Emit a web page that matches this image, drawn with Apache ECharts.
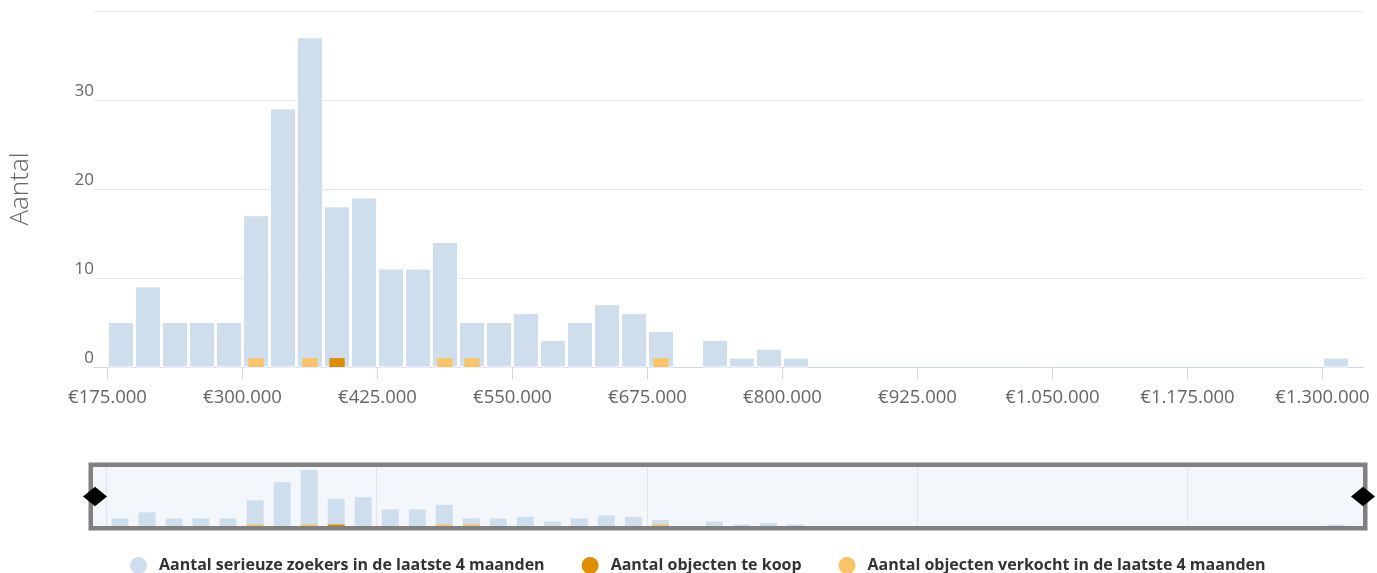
<!DOCTYPE html>
<html>
<head>
<meta charset="utf-8">
<script src="https://cdn.jsdelivr.net/npm/echarts@6/dist/echarts.min.js"></script>
<style>
html,body{margin:0;padding:0;background:#fff;}
#chart{width:1377px;height:573px;}
</style>
</head>
<body>
<div id="chart"></div>
<script>
// Bin starts (price classes of 25.000)
const binStarts = [175000, 200000, 225000, 250000, 275000, 300000, 325000, 350000, 375000, 400000,
  425000, 450000, 475000, 500000, 525000, 550000, 575000, 600000, 625000, 650000,
  675000, 700000, 725000, 750000, 775000, 800000, 825000, 850000, 875000, 900000,
  925000, 950000, 975000, 1000000, 1025000, 1050000, 1075000, 1100000, 1125000, 1150000,
  1175000, 1200000, 1225000, 1250000, 1275000, 1300000];
const binSize = 25000;
// Series values
const zoekers = [5, 9, 5, 5, 5, 17, 29, 37, 18, 19,
  11, 11, 14, 5, 5, 6, 3, 5, 7, 6,
  4, 0, 3, 1, 2, 1, 0, 0, 0, 0,
  0, 0, 0, 0, 0, 0, 0, 0, 0, 0,
  0, 0, 0, 0, 0, 1];
const teKoop = [0, 0, 0, 0, 0, 0, 0, 0, 1, 0,
  0, 0, 0, 0, 0, 0, 0, 0, 0, 0,
  0, 0, 0, 0, 0, 0, 0, 0, 0, 0,
  0, 0, 0, 0, 0, 0, 0, 0, 0, 0,
  0, 0, 0, 0, 0, 0];
const verkocht = [0, 0, 0, 0, 0, 1, 0, 1, 0, 0,
  0, 0, 1, 1, 0, 0, 0, 0, 0, 0,
  1, 0, 0, 0, 0, 0, 0, 0, 0, 0,
  0, 0, 0, 0, 0, 0, 0, 0, 0, 0,
  0, 0, 0, 0, 0, 0];
// Tick values
const xTicks = [175000, 300000, 425000, 550000, 675000, 800000, 925000, 1050000, 1175000, 1300000];
const navTicks = [175000, 425000, 675000, 925000, 1175000];
const yTickLabels = [0, 10, 20, 30];

const names = ['Aantal serieuze zoekers in de laatste 4 maanden', 'Aantal objecten te koop', 'Aantal objecten verkocht in de laatste 4 maanden'];
const colors = ['#cfdeed', '#df8e00', '#f8c465'];
const FONT = 'Open Sans';

function fmtEuro(v) {
  return '€' + String(v).replace(/\B(?=(\d{3})+(?!\d))/g, '.');
}
function toData(arr) { return arr.map((v, i) => [binStarts[i], v]); }

function barRenderer(frac, stroke) {
  return function (params, api) {
    const x = api.value(0), v = api.value(1);
    if (!v) return null;
    const p0 = api.coord([x, 0]);
    const p1 = api.coord([x + binSize, v]);
    const bw = p1[0] - p0[0];
    const w = bw * frac;
    const cx = (p0[0] + p1[0]) / 2;
    return {
      type: 'rect',
      shape: { x: cx - w / 2, y: p1[1], width: w, height: p0[1] - p1[1] },
      style: stroke ? { fill: api.visual('color'), stroke: '#ffffff', lineWidth: 1 } : { fill: api.visual('color') }
    };
  };
}

const xMin = binStarts[0] - binSize / 2;
const xMax = binStarts[binStarts.length - 1] + binSize + binSize / 2;

const chart = echarts.init(document.getElementById('chart'));
chart.setOption({
  animation: false,
  backgroundColor: '#ffffff',
  textStyle: { fontFamily: FONT },
  grid: [
    { left: 93, right: 14, top: 11, bottom: 206 },
    { left: 93, right: 14, top: 467, height: 59 },
    { left: 90.75, right: 11.75, top: 464.75, height: 63.5, show: true, backgroundColor: '#f3f7fb', borderColor: '#808080', borderWidth: 4.5 }
  ],
  xAxis: [
    {
      type: 'value', gridIndex: 0, min: xMin, max: xMax,
      axisLine: { show: true, lineStyle: { color: '#ccd6eb', width: 1 } },
      axisTick: { show: true, length: 12, lineStyle: { color: '#ccd6eb' }, customValues: xTicks },
      axisLabel: { show: true, customValues: xTicks, formatter: fmtEuro, color: '#666666', fontSize: 18.5, margin: 21, fontFamily: FONT },
      splitLine: { show: false }
    },
    {
      type: 'value', gridIndex: 1, min: xMin, max: xMax,
      axisLine: { show: false },
      axisTick: { show: false, customValues: navTicks },
      axisLabel: { show: false, customValues: navTicks },
      splitLine: { show: true, lineStyle: { color: '#e2e6eb', width: 1 } }
    },
    { type: 'value', gridIndex: 2, min: 0, max: 1, show: false }
  ],
  yAxis: [
    {
      type: 'value', gridIndex: 0, min: 0, max: 40, interval: 10,
      name: 'Aantal', nameLocation: 'middle', nameGap: 60,
      nameTextStyle: { fontSize: 26, color: '#666666', fontWeight: 300, fontFamily: FONT },
      axisLine: { show: false }, axisTick: { show: false },
      axisLabel: {
        customValues: yTickLabels,
        color: '#666666', fontSize: 17, margin: 0, verticalAlign: 'bottom', fontFamily: FONT
      },
      splitLine: { show: true, lineStyle: { color: '#e6e6e6', width: 1 } }
    },
    { type: 'value', gridIndex: 1, min: 0, max: 39, show: false, splitLine: { show: false } },
    { type: 'value', gridIndex: 2, min: 0, max: 1, show: false }
  ],
  dataZoom: [{
    type: 'slider', xAxisIndex: 0, filterMode: 'none', start: 0, end: 100,
    left: 93, right: 14, top: 467, height: 59,
    backgroundColor: 'rgba(0,0,0,0)', fillerColor: 'rgba(0,0,0,0)', borderColor: 'rgba(0,0,0,0)',
    showDetail: false, showDataShadow: false, brushSelect: false,
    dataBackground: { lineStyle: { opacity: 0 }, areaStyle: { opacity: 0 } },
    selectedDataBackground: { lineStyle: { opacity: 0 }, areaStyle: { opacity: 0 } },
    moveHandleSize: 0, moveHandleStyle: { opacity: 0 },
    handleIcon: 'path://M10,0L21,9L10,18L-1,9Z', handleSize: 24,
    handleStyle: { color: '#000000', borderColor: '#000000', borderWidth: 0, shadowBlur: 0 },
    emphasis: { handleStyle: { color: '#000000', borderColor: '#000000', borderWidth: 0, shadowBlur: 0 }, moveHandleStyle: { opacity: 0 } }
  }],
  legend: {
    data: names, left: 125, top: 552, icon: 'circle', itemWidth: 17, itemHeight: 17, itemGap: 37,
    textStyle: { fontSize: 16, fontWeight: 'bold', color: '#333333', fontFamily: FONT, padding: [0, 0, 0, 7] }
  },
  series: [
    { name: names[0], type: 'custom', xAxisIndex: 0, yAxisIndex: 0, renderItem: barRenderer(0.93, true), itemStyle: { color: colors[0] }, encode: { x: 0, y: 1 }, data: toData(zoekers), z: 2 },
    { name: names[1], type: 'custom', xAxisIndex: 0, yAxisIndex: 0, renderItem: barRenderer(0.57, false), itemStyle: { color: colors[1] }, encode: { x: 0, y: 1 }, data: toData(teKoop), z: 3 },
    { name: names[2], type: 'custom', xAxisIndex: 0, yAxisIndex: 0, renderItem: barRenderer(0.57, false), itemStyle: { color: colors[2] }, encode: { x: 0, y: 1 }, data: toData(verkocht), z: 3 },
    { name: names[0], type: 'custom', xAxisIndex: 1, yAxisIndex: 1, renderItem: barRenderer(0.63, false), itemStyle: { color: colors[0] }, encode: { x: 0, y: 1 }, data: toData(zoekers), z: 2 },
    { name: names[1], type: 'custom', xAxisIndex: 1, yAxisIndex: 1, renderItem: barRenderer(0.63, false), itemStyle: { color: colors[1] }, encode: { x: 0, y: 1 }, data: toData(teKoop), z: 3 },
    { name: names[2], type: 'custom', xAxisIndex: 1, yAxisIndex: 1, renderItem: barRenderer(0.63, false), itemStyle: { color: colors[2] }, encode: { x: 0, y: 1 }, data: toData(verkocht), z: 3 }
  ]
});
</script>
</body>
</html>
